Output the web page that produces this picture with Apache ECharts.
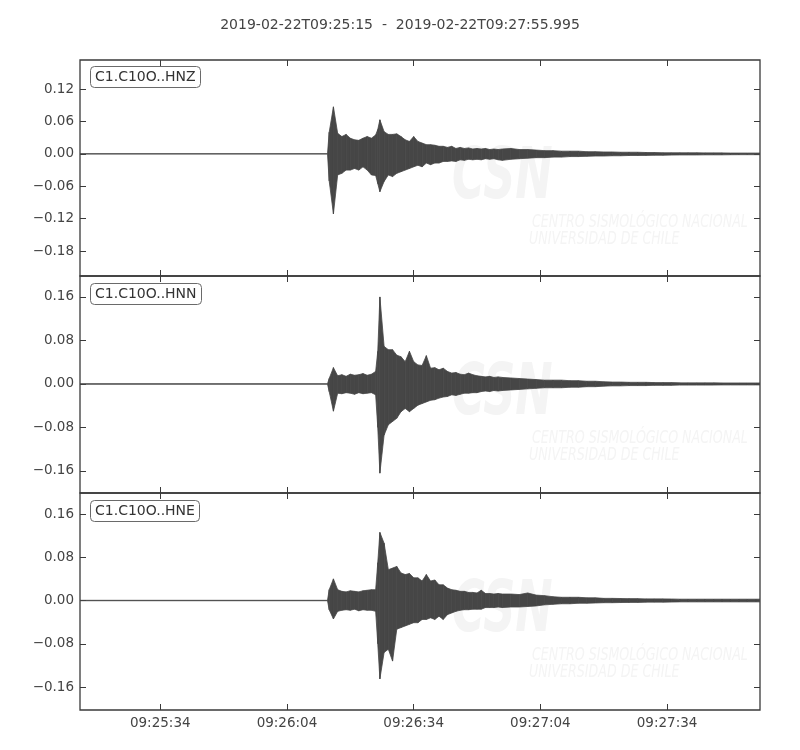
<!DOCTYPE html>
<html><head><meta charset="utf-8">
<script src="https://cdn.jsdelivr.net/npm/echarts@6/dist/echarts.min.js"></script>
<style>html,body{margin:0;padding:0;background:#fff}#c{width:800px;height:750px}</style>
</head><body><div id="c"></div>
<script>
// ---------- data ----------
const titleText = '2019-02-22T09:25:15  -  2019-02-22T09:27:55.995';
const channels = ['C1.C10O..HNZ', 'C1.C10O..HNN', 'C1.C10O..HNE'];
const startClock = [9, 25, 15];
const duration = 160.995;               // seconds shown
const xTickSecs = [19, 49, 79, 109, 139]; // 09:25:34 ... 09:27:34

// envelope knot times (s from start)
const times = [0, 58.6, 59, 60, 61, 62, 63, 64, 65, 66, 67, 68, 69, 70, 70.5,
  71, 72, 73, 74, 75, 76, 77, 78, 79, 80, 81, 82, 83, 84, 85, 86, 87, 88, 89, 90,
  91, 92, 93, 94, 95, 96, 97, 98, 99, 100,
  102, 104, 106, 108, 110, 112, 114, 116, 118, 120, 122, 124, 126, 128, 130,
  132, 134, 136, 138, 140, 142, 144, 146, 148, 150, 152, 154, 156, 158, 160, 161];

const hnzMax = [0.0004, 0.0004, 0.04, 0.087, 0.038, 0.032, 0.036, 0.029, 0.026, 0.025, 0.029, 0.032, 0.029, 0.035, 0.045,
  0.063, 0.041, 0.036, 0.036, 0.037, 0.032, 0.026, 0.023, 0.032, 0.023, 0.02, 0.017, 0.017, 0.016, 0.014, 0.014, 0.012, 0.014, 0.01, 0.012,
  0.01, 0.011, 0.009, 0.01, 0.009, 0.01, 0.008, 0.009, 0.008, 0.009,
  0.010, 0.008, 0.008, 0.007, 0.006, 0.006, 0.005, 0.005, 0.005, 0.004, 0.004, 0.0035, 0.0035, 0.003, 0.003,
  0.003, 0.0025, 0.0025, 0.002, 0.002, 0.002, 0.002, 0.002, 0.0018, 0.0018, 0.0018, 0.0015, 0.0015, 0.0015, 0.0015, 0.0015];
const hnzMin = [-0.0004, -0.0004, -0.05, -0.111, -0.039, -0.036, -0.03, -0.03, -0.027, -0.03, -0.024, -0.03, -0.039, -0.04, -0.055,
  -0.07, -0.051, -0.039, -0.042, -0.036, -0.033, -0.03, -0.027, -0.024, -0.021, -0.024, -0.017, -0.02, -0.017, -0.017, -0.014, -0.014, -0.013, -0.014, -0.011,
  -0.012, -0.01, -0.011, -0.01, -0.011, -0.009, -0.01, -0.009, -0.011, -0.012,
  -0.010, -0.009, -0.008, -0.007, -0.007, -0.006, -0.006, -0.005, -0.005, -0.0045, -0.004, -0.004, -0.0035, -0.0035, -0.003,
  -0.003, -0.0028, -0.0025, -0.0025, -0.0022, -0.002, -0.002, -0.002, -0.0018, -0.0018, -0.0018, -0.0016, -0.0015, -0.0015, -0.0015, -0.0015];

const hnnMax = [0.0004, 0.0004, 0.010, 0.030, 0.015, 0.017, 0.014, 0.018, 0.016, 0.017, 0.019, 0.016, 0.018, 0.023, 0.06,
  0.16, 0.069, 0.063, 0.063, 0.053, 0.05, 0.041, 0.06, 0.041, 0.035, 0.034, 0.052, 0.029, 0.03, 0.026, 0.029, 0.023, 0.02, 0.021, 0.018,
  0.017, 0.02, 0.017, 0.015, 0.014, 0.013, 0.014, 0.012, 0.013, 0.012,
  0.011, 0.01, 0.009, 0.008, 0.007, 0.007, 0.007, 0.006, 0.006, 0.005, 0.005, 0.004, 0.0035, 0.0035, 0.003,
  0.003, 0.003, 0.0025, 0.0025, 0.0025, 0.002, 0.002, 0.002, 0.002, 0.002, 0.0018, 0.0018, 0.0018, 0.0018, 0.0018, 0.0018];
const hnnMin = [-0.0004, -0.0004, -0.014, -0.05, -0.017, -0.018, -0.016, -0.017, -0.019, -0.016, -0.018, -0.017, -0.016, -0.02, -0.08,
  -0.164, -0.094, -0.075, -0.069, -0.063, -0.051, -0.045, -0.051, -0.045, -0.039, -0.036, -0.033, -0.03, -0.029, -0.026, -0.024, -0.023, -0.02, -0.021, -0.019,
  -0.017, -0.017, -0.016, -0.016, -0.014, -0.013, -0.014, -0.012, -0.013, -0.012,
  -0.011, -0.01, -0.009, -0.008, -0.007, -0.007, -0.007, -0.006, -0.006, -0.005, -0.005, -0.004, -0.0035, -0.0035, -0.003,
  -0.003, -0.003, -0.0025, -0.0025, -0.0025, -0.002, -0.002, -0.002, -0.002, -0.002, -0.0018, -0.0018, -0.0018, -0.0018, -0.0018, -0.0018];

const hneMax = [0.0004, 0.0004, 0.02, 0.04, 0.02, 0.017, 0.016, 0.018, 0.017, 0.016, 0.018, 0.019, 0.02, 0.02, 0.07,
  0.126, 0.106, 0.057, 0.06, 0.063, 0.051, 0.048, 0.05, 0.042, 0.042, 0.036, 0.048, 0.036, 0.038, 0.029, 0.029, 0.023, 0.02, 0.019, 0.017,
  0.017, 0.015, 0.015, 0.014, 0.019, 0.013, 0.013, 0.012, 0.013, 0.012,
  0.012, 0.011, 0.014, 0.01, 0.009, 0.007, 0.006, 0.006, 0.006, 0.005, 0.005, 0.004, 0.004, 0.0037, 0.0035,
  0.0035, 0.003, 0.003, 0.003, 0.0028, 0.0025, 0.0025, 0.0025, 0.0025, 0.0025, 0.0025, 0.0025, 0.0025, 0.0025, 0.0025, 0.0025];
const hneMin = [-0.0004, -0.0004, -0.017, -0.034, -0.02, -0.018, -0.017, -0.018, -0.016, -0.019, -0.017, -0.018, -0.018, -0.02, -0.08,
  -0.145, -0.096, -0.09, -0.112, -0.053, -0.05, -0.047, -0.044, -0.041, -0.041, -0.035, -0.035, -0.032, -0.035, -0.029, -0.035, -0.026, -0.023, -0.02, -0.018,
  -0.017, -0.017, -0.016, -0.016, -0.016, -0.013, -0.013, -0.013, -0.012, -0.013,
  -0.012, -0.012, -0.011, -0.01, -0.008, -0.007, -0.006, -0.006, -0.005, -0.005, -0.0045, -0.004, -0.004, -0.0037, -0.0035,
  -0.0035, -0.003, -0.003, -0.003, -0.0028, -0.0025, -0.0025, -0.0025, -0.0025, -0.0025, -0.0025, -0.0025, -0.0025, -0.0025, -0.0025, -0.0025];

const yTicksZ = [-0.18, -0.12, -0.06, 0, 0.06, 0.12];
const yTicksNE = [-0.16, -0.08, 0, 0.08, 0.16];
const yRanges = [[-0.226, 0.1737], [-0.2005, 0.1985], [-0.2025, 0.1989]];

// ---------- layout / style ----------
const FONT = 'DejaVu Sans';
const TXT = '#444';
const FRAME = '#3a3a3a';
const WAVE = '#464646';
const WM = '#f4f4f4';
const gridTops = [60, 276, 493];
const gridHeights = [216, 217, 217];
const envelopes = [[hnzMax, hnzMin], [hnnMax, hnnMin], [hneMax, hneMin]];
const yTickSets = [yTicksZ, yTicksNE, yTicksNE];

function pad(n) { return (n < 10 ? '0' : '') + n; }
function clockLabel(s) {
  let tot = startClock[0] * 3600 + startClock[1] * 60 + startClock[2] + Math.round(s);
  const h = Math.floor(tot / 3600), m = Math.floor((tot % 3600) / 60), sec = tot % 60;
  return pad(h) + ':' + pad(m) + ':' + pad(sec);
}
function yLabel(v) {
  if (Math.abs(v) < 1e-9) return '0.00';
  return (v < 0 ? '\u2212' : '') + Math.abs(v).toFixed(2);
}

function bandData(mx, mn) {
  const out = [];
  for (let i = 0; i < times.length - 1; i++) {
    out.push([times[i], mx[i], mn[i], times[i + 1], mx[i + 1], mn[i + 1]]);
  }
  return out;
}
function renderBand(params, api) {
  const p = [
    api.coord([api.value(0), api.value(1)]),
    api.coord([api.value(3), api.value(4)]),
    api.coord([api.value(3), api.value(5)]),
    api.coord([api.value(0), api.value(2)])
  ];
  return { type: 'polygon', shape: { points: p },
    style: { fill: WAVE, stroke: WAVE, lineWidth: 0.8 } };
}

const grids = [], xAxes = [], yAxes = [], series = [], titles = [], graphics = [];
titles.push({ text: titleText, left: 'center', top: 13,
  textStyle: { fontFamily: FONT, fontSize: 14, fontWeight: 'normal', color: TXT } });

for (let i = 0; i < 3; i++) {
  grids.push({ left: 80, top: gridTops[i], width: 680, height: gridHeights[i], show: true,
    borderColor: FRAME, borderWidth: 1.3, backgroundColor: 'transparent', containLabel: false });
  const tickStyle = { color: FRAME, width: 1 };
  ['bottom', 'top'].forEach(pos => {
    xAxes.push({ gridIndex: i, type: 'value', position: pos, min: 0, max: duration,
      axisLine: { show: false, onZero: false }, splitLine: { show: false },
      axisTick: { show: true, inside: true, length: 6, customValues: xTickSecs, lineStyle: tickStyle },
      axisLabel: { show: pos === 'bottom' && i === 2, customValues: xTickSecs, formatter: clockLabel,
        margin: 6, color: TXT, fontSize: 13.5, fontFamily: FONT } });
  });
  ['left', 'right'].forEach(pos => {
    yAxes.push({ gridIndex: i, type: 'value', position: pos, min: yRanges[i][0], max: yRanges[i][1],
      axisLine: { show: false, onZero: false }, splitLine: { show: false },
      axisTick: { show: true, inside: true, length: 6, customValues: yTickSets[i], lineStyle: tickStyle },
      axisLabel: { show: pos === 'left', customValues: yTickSets[i], formatter: yLabel,
        margin: 6, color: TXT, fontSize: 13.5, fontFamily: FONT } });
  });
  series.push({ type: 'custom', name: channels[i], xAxisIndex: 2 * i, yAxisIndex: 2 * i,
    renderItem: renderBand, clip: true, silent: true, z: 5,
    encode: { x: [0, 3], y: [1, 2, 4, 5] }, data: bandData(envelopes[i][0], envelopes[i][1]) });
  titles.push({ text: channels[i], left: 90, top: gridTops[i] + 6 + (i === 0 ? 0 : 1), padding: [4, 5, 4, 5],
    backgroundColor: '#fff', borderColor: '#6a6a6a', borderWidth: 1, borderRadius: 4,
    textStyle: { fontFamily: FONT, fontSize: 14, fontWeight: 'normal', color: '#333' } });
  // faint watermark
  const oy = gridTops[i] - 60;
  graphics.push({ type: 'text', x: 452, y: 143 + oy, scaleX: 0.62, z: -10, silent: true,
    style: { text: 'CSN', font: 'italic bold 72px "DejaVu Sans"', fill: WM } });
  graphics.push({ type: 'text', x: 532, y: 213 + oy, scaleX: 0.78, z: -10, silent: true,
    style: { text: 'CENTRO SISMOLÓGICO NACIONAL', font: 'italic 18px "DejaVu Sans Condensed"', fill: WM } });
  graphics.push({ type: 'text', x: 529, y: 230 + oy, scaleX: 0.78, z: -10, silent: true,
    style: { text: 'UNIVERSIDAD DE CHILE', font: 'italic 18px "DejaVu Sans Condensed"', fill: WM } });
}

const chart = echarts.init(document.getElementById('c'), null, { renderer: 'canvas' });
chart.setOption({
  animation: false,
  backgroundColor: '#fff',
  title: titles,
  grid: grids,
  xAxis: xAxes,
  yAxis: yAxes,
  graphic: graphics,
  series: series
});
</script>
</body></html>
